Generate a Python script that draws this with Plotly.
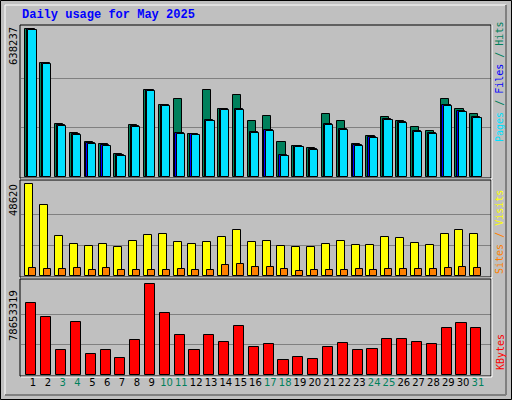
import plotly.graph_objects as go

days = list(range(1, 32))
weekend = [3, 4, 10, 11, 17, 18, 24, 25, 31]
max_hits = 638237
max_visits = 48620
max_kbytes = 78653319

k1 = max_hits / 442.0
hits_px = [88,190,373,400,424,430,460,376,270,316,298,403,270,328,286,364,349,424,436,442,343,364,430,409,352,364,382,394,298,328,343]
pages_px = [91,193,379,406,430,436,466,382,274,319,403,406,364,331,331,400,394,466,439,448,376,391,436,415,361,370,397,403,319,337,355]
hits = [round((530 - v) * k1) for v in hits_px]
pages = [round((530 - v) * k1) for v in pages_px]
files = [round((530 - v + 3) * k1) for v in pages_px]

k2 = max_visits / 276.0
visits_px = [28,91,184,208,214,208,217,199,181,178,202,208,202,187,166,202,199,214,217,217,208,199,211,211,187,190,205,211,178,166,178]
sites_px = [280,283,283,280,286,280,286,286,286,286,283,286,286,271,268,277,277,283,289,286,286,286,283,286,283,283,283,283,280,277,280]
visits = [round((304 - v) * k2) for v in visits_px]
sites = [round((304 - v) * k2) for v in sites_px]

k3 = max_kbytes / 273.0
kb_px = [385,427,526,442,538,526,550,496,328,415,481,526,481,502,454,517,508,556,547,553,517,505,526,523,493,493,502,508,460,445,460]
kbytes = [round((601 - v) * k3) for v in kb_px]

ticktext = [f"<span style='color:#00805c'>{d}</span>" if d in weekend else str(d) for d in days]

W, H = 512, 400
def py(p):
    return 1 - p / H
def px(p):
    return p / W

fig = go.Figure()
line = dict(color="black", width=1)
fig.add_bar(x=days, y=hits, marker=dict(color="#00805c", line=line), width=0.55, offset=-0.52, yaxis="y")
fig.add_bar(x=days, y=files, marker=dict(color="#0000ff", line=line), width=0.55, offset=-0.40, yaxis="y")
fig.add_bar(x=days, y=pages, marker=dict(color="#00e0ff", line=line), width=0.55, offset=-0.31, yaxis="y")
fig.add_bar(x=days, y=visits, marker=dict(color="#ffff00", line=line), width=0.54, offset=-0.52, yaxis="y2", xaxis="x2")
fig.add_bar(x=days, y=sites, marker=dict(color="#ff8000", line=line), width=0.47, offset=-0.25, yaxis="y2", xaxis="x2")
fig.add_bar(x=days, y=kbytes, marker=dict(color="#ff0000", line=line), width=0.68, offset=-0.45, yaxis="y3", xaxis="x3")

xr = [0.19, 31.88]
xd = [px(21), px(491)]
def yax(maxv, base, top, maxpix):
    return dict(domain=[py(base), py(top)], range=[0, maxv * (base - top) / (base - maxpix)],
                tickvals=[maxv / 3, 2 * maxv / 3], showticklabels=False, showgrid=True,
                gridcolor="#808080", gridwidth=1, zeroline=False, showline=False, fixedrange=True)

fig.update_layout(
    width=W, height=H, margin=dict(l=0, r=0, t=0, b=0),
    paper_bgcolor="#c0c0c0", plot_bgcolor="#c0c0c0",
    barmode="overlay", showlegend=False, bargap=0,
    xaxis=dict(domain=xd, range=xr, anchor="y", showticklabels=False, showgrid=False, zeroline=False),
    xaxis2=dict(domain=xd, range=xr, anchor="y2", showticklabels=False, showgrid=False, zeroline=False),
    xaxis3=dict(domain=xd, range=xr, anchor="y3", tickvals=days, ticktext=ticktext, tickangle=0,
                ticks="", showgrid=False, zeroline=False,
                tickfont=dict(family="DejaVu Sans", size=10, color="black")),
    yaxis=dict(anchor="x", **yax(max_hits, 177, 25, 29)),
    yaxis2=dict(anchor="x2", **yax(max_visits, 276, 181, 184)),
    yaxis3=dict(anchor="x3", **yax(max_kbytes, 375, 280, 284)),
)

shapes = []
def rect(x0, y0, x1, y1, **kw):
    shapes.append(dict(type="rect", xref="paper", yref="paper", x0=px(x0), x1=px(x1), y0=py(y1), y1=py(y0), **kw))
def ln(x0, y0, x1, y1, color, width=1):
    shapes.append(dict(type="line", xref="paper", yref="paper", x0=px(x0), x1=px(x1), y0=py(y0), y1=py(y1),
                       line=dict(color=color, width=width)))
# outer frame
rect(0.5, 0.5, 511.5, 399.5, line=dict(color="black", width=1))
ln(5, 5, 506, 5, "white"); ln(5, 5, 5, 395, "white")
ln(506, 5, 506, 395, "#808080", 2); ln(5, 395, 506, 395, "#808080", 2)
# panels
for (t, b) in [(25, 178), (180, 277), (279, 376)]:
    rect(20, t, 491, b, line=dict(color="black", width=1))
    ln(21, b + 1, 492, b + 1, "white"); ln(492, t, 492, b + 1, "white")
fig.update_layout(shapes=shapes)

ann = []
def a(x, y, text, angle=0, size=11, family="DejaVu Sans", color="black", xanchor="center", yanchor="middle"):
    ann.append(dict(x=px(x), y=py(y), xref="paper", yref="paper", text=text, showarrow=False, textangle=angle,
                    font=dict(family=family, size=size, color=color), xanchor=xanchor, yanchor=yanchor))
a(20, 15, "<b>Daily usage for May 2025</b>", size=12, family="Liberation Mono", color="#0000ff", xanchor="left")
a(13, 46, str(max_hits), angle=-90, size=10)
a(13, 200, str(max_visits), angle=-90, size=10)
a(13, 316, str(max_kbytes), angle=-90, size=10)
mono = "DejaVu Sans Mono"
a(500, 82, "<span style='color:#00e0ff'>Pages</span><span style='color:#00805c'> / </span><span style='color:#0000ff'>Files</span><span style='color:#00805c'> / Hits</span>", angle=-90, size=10, family=mono)
a(500, 232, "<span style='color:#ff8000'>Sites</span><span style='color:#ff8000'> / </span><span style='color:#ffff00'>Visits</span>", angle=-90, size=10, family=mono)
a(500, 352, "<span style='color:#ff0000'>KBytes</span>", angle=-90, size=10, family=mono)
fig.update_layout(annotations=ann)

fig.write_html("out.html", post_script="document.body.style.margin='0';", config={"displayModeBar": False})
